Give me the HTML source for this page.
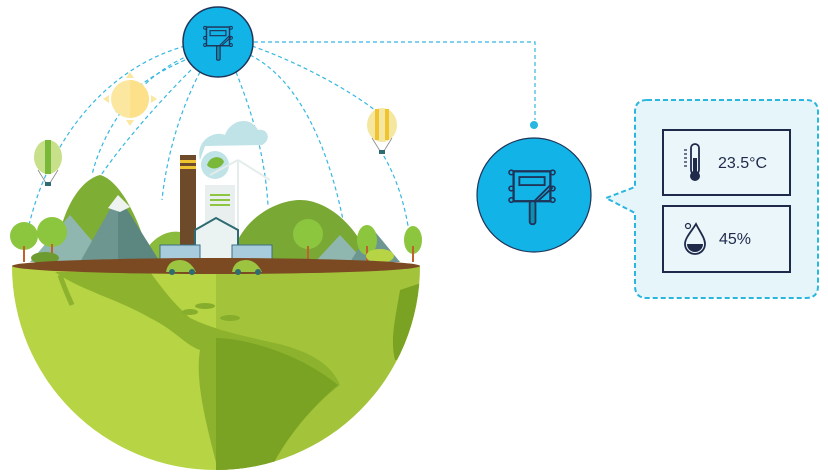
<!DOCTYPE html>
<html><head><meta charset="utf-8"><style>
html,body{margin:0;padding:0;background:#fff;width:828px;height:474px;overflow:hidden}
svg{display:block}
text{font-family:"Liberation Sans",sans-serif}
</style></head><body>
<svg width="828" height="474" viewBox="0 0 828 474" xmlns="http://www.w3.org/2000/svg">
<defs>
<clipPath id="hemi"><path d="M12,266 A204,204 0 0 0 420,266 Z"/></clipPath>
<g id="sensor">
 <rect x="-16" y="-18" width="32" height="26" fill="none" stroke="#1f3458" stroke-width="2"/>
 <rect x="-11" y="-13" width="22" height="7" fill="none" stroke="#1f3458" stroke-width="1.6"/>
 <circle cx="-18" cy="-17" r="2" fill="none" stroke="#1f3458" stroke-width="1.4"/>
 <circle cx="18" cy="-17" r="2" fill="none" stroke="#1f3458" stroke-width="1.4"/>
 <circle cx="-18" cy="-3" r="2" fill="none" stroke="#1f3458" stroke-width="1.4"/>
 <circle cx="18" cy="-3" r="2" fill="none" stroke="#1f3458" stroke-width="1.4"/>
 <circle cx="-18" cy="7" r="2" fill="none" stroke="#1f3458" stroke-width="1.4"/>
 <circle cx="18" cy="7" r="2" fill="none" stroke="#1f3458" stroke-width="1.4"/>
 <path d="M2,8 L16,-6 M5,8 L18,-4" stroke="#1f3458" stroke-width="1.6" fill="none"/>
 <rect x="-2" y="8" width="5" height="20" rx="2" fill="#0f8fb0" stroke="#1f3458" stroke-width="1.6"/>
</g>
</defs>

<g fill="none" stroke="#35b8e0" stroke-width="1.2" stroke-dasharray="4,3">
 <path d="M254,42 L535,42 L535,120"/>
 <path d="M185,46 C100,70 40,150 24,250"/>
 <path d="M190,55 C130,80 100,140 92,175"/>
 <path d="M196,65 C150,110 110,160 98,180"/>
 <path d="M185,60 C140,80 120,100 115,115"/>
 <path d="M200,72 C175,120 165,170 162,200"/>
 <path d="M236,72 C255,120 265,160 268,205"/>
 <path d="M250,55 C300,80 330,150 345,230"/>
 <path d="M252,46 C320,70 380,110 385,120"/>
 <path d="M380,150 C400,180 408,220 410,240"/>
</g>
<circle cx="534" cy="125" r="4" fill="#29b6e0"/>

<circle cx="218" cy="42" r="35" fill="#12b3e6" stroke="#1f3458" stroke-width="1.5"/>
<g transform="translate(218,40) scale(0.72)"><use href="#sensor"/></g>

<circle cx="534" cy="195" r="57" fill="#12b3e6" stroke="#1f3458" stroke-width="1.2"/>
<g transform="translate(532,192) scale(1.15)"><use href="#sensor"/></g>

<path d="M647,100 H806 Q818,100 818,112 V286 Q818,298 806,298 H647 Q635,298 635,286 V213 L606,198 L635,187 V112 Q635,100 647,100 Z" fill="#e6f5f9" stroke="#29b6e0" stroke-width="2" stroke-dasharray="5,3"/>
<rect x="663" y="130" width="127" height="65" fill="#eaf6f9" stroke="#1f2a4a" stroke-width="2"/>
<rect x="663" y="206" width="127" height="66" fill="#eaf6f9" stroke="#1f2a4a" stroke-width="2"/>
<rect x="691" y="144" width="8" height="30" rx="4" fill="none" stroke="#1f2a4a" stroke-width="1.8"/>
<circle cx="695" cy="176" r="5" fill="#1f2a4a"/>
<rect x="693" y="158" width="4" height="16" fill="#1f2a4a"/>
<path d="M684,150h3M684,154h3M684,158h3M684,162h3M684,166h3" stroke="#1f2a4a" stroke-width="1.2"/>
<text x="718" y="168" font-size="16" fill="#1f2a4a">23.5°C</text>
<path d="M696,224 C691,232 685,238 685,244 A9,9 0 0 0 705,244 C705,238 700,232 696,224 Z" fill="none" stroke="#1f2a4a" stroke-width="1.8"/>
<path d="M687,244 A8,8 0 0 0 703,244 Z" fill="#1f2a4a"/>
<circle cx="688" cy="226" r="2.5" fill="none" stroke="#1f2a4a" stroke-width="1.2"/>
<text x="719" y="244" font-size="16" fill="#1f2a4a">45%</text>

<g clip-path="url(#hemi)">
 <rect x="0" y="260" width="216" height="220" fill="#b6d444"/>
 <rect x="216" y="260" width="220" height="220" fill="#a3c43a"/>
 <path d="M55,272 C80,290 120,300 150,318 C175,330 185,345 200,350 C195,380 205,420 218,470 L270,470 C290,430 320,400 340,385 C330,360 300,348 270,342 C240,335 215,330 190,318 C170,300 160,285 150,272 Z" fill="#8db32e"/>
 <path d="M216,338 C240,338 295,350 338,385 C320,400 290,430 270,470 L216,470 Z" fill="#7aa324"/>
 <path d="M400,290 C395,320 390,340 395,360 L430,360 L430,280 Z" fill="#7aa324"/>
 <path d="M60,275 C65,290 70,300 72,305" stroke="#8db32e" stroke-width="5" fill="none"/>
 <ellipse cx="205" cy="306" rx="10" ry="3" fill="#86ae2c"/>
 <ellipse cx="230" cy="318" rx="10" ry="3" fill="#86ae2c"/>
 <ellipse cx="190" cy="312" rx="8" ry="3" fill="#86ae2c"/>
</g>

<path d="M55,260 C60,210 80,180 100,175 C120,180 140,220 150,260 Z" fill="#7fae34"/>
<path d="M230,262 C240,215 280,200 300,200 C330,200 360,230 370,262 Z" fill="#79a834"/>
<path d="M140,262 C150,235 170,230 180,232 L190,262 Z" fill="#8bbb3c"/>
<path d="M30,262 L70,215 L110,262 Z" fill="#8fb7b0"/>
<path d="M80,262 L118,195 L160,262 Z" fill="#6d9690"/>
<path d="M118,195 L160,262 L118,262 Z" fill="#5c8680"/>
<path d="M108,208 L118,195 L130,207 L120,212 Z" fill="#eef3f2"/>
<path d="M315,262 L340,235 L365,262 Z" fill="#8fb7b0"/>
<path d="M350,262 L372,228 L400,262 Z" fill="#6d9690"/>
<g fill="#8cc63f">
 <circle cx="24" cy="236" r="14"/><circle cx="52" cy="232" r="15"/>
 <circle cx="308" cy="234" r="15"/><ellipse cx="367" cy="240" rx="10" ry="15"/>
 <ellipse cx="413" cy="240" rx="9" ry="14"/><circle cx="216" cy="242" r="11"/>
</g>
<g stroke="#c0622b" stroke-width="2"><path d="M24,246V262M52,244V262M308,246V262M367,246V262M413,246V262M216,250V262"/></g>
<ellipse cx="45" cy="258" rx="14" ry="6" fill="#6d9b30"/>
<ellipse cx="380" cy="256" rx="14" ry="7" fill="#b6d444"/>
<path d="M200,160 C195,140 215,130 225,135 C230,120 250,115 258,130 C268,128 272,140 262,145 L205,146 Z" fill="#bfe3e6"/>
<rect x="180" y="155" width="16" height="100" fill="#6d4a2a"/>
<rect x="180" y="160" width="16" height="3" fill="#f0c430"/><rect x="180" y="166" width="16" height="3" fill="#f0c430"/>
<circle cx="215" cy="165" r="14" fill="#bfe3e6"/>
<path d="M207,165 C210,155 222,155 224,162 C220,170 210,170 207,165Z" fill="#7ab83a"/>
<rect x="205" y="185" width="30" height="55" fill="#e9efef"/>
<path d="M210,195h20M210,200h20M210,205h20" stroke="#8cc63f" stroke-width="2"/>
<path d="M238,160V255M238,160L270,180M238,160L210,175" stroke="#e5ecec" stroke-width="2"/>
<path d="M195,230 L216,218 L238,230 L238,262 L195,262 Z" fill="#eaf2f2" stroke="#2e6c72" stroke-width="2"/>
<rect x="160" y="245" width="40" height="18" fill="#a8ccdc" stroke="#3c6f86"/>
<rect x="232" y="245" width="40" height="18" fill="#a8ccdc" stroke="#3c6f86"/>
<ellipse cx="216" cy="266" rx="204" ry="8" fill="#7b4a22"/>
<path d="M166,272 Q168,260 180,260 Q190,260 196,272 Z" fill="#9cc441"/>
<path d="M232,272 Q234,260 246,260 Q256,260 262,272 Z" fill="#9cc441"/>
<circle cx="172" cy="272" r="3" fill="#2e6c72"/><circle cx="192" cy="272" r="3" fill="#2e6c72"/>
<circle cx="238" cy="272" r="3" fill="#2e6c72"/><circle cx="258" cy="272" r="3" fill="#2e6c72"/>

<g fill="#fbe7a0"><circle cx="130" cy="99" r="19"/>
<path d="M130,72l4,6h-8zM130,126l4,-6h-8zM103,99l6,-4v8zM157,99l-6,-4v8z"/></g>
<path d="M130,80 A19,19 0 0 1 130,118 Z" fill="#fde08a"/>
<ellipse cx="48" cy="157" rx="14" ry="17" fill="#c8e08a"/>
<path d="M48,140 V174" stroke="#7ab83a" stroke-width="6"/>
<path d="M38,170 L46,183 M58,170 L50,183" stroke="#888" stroke-width="0.8"/>
<rect x="45" y="182" width="6" height="4" fill="#2e6c72"/>
<ellipse cx="382" cy="125" rx="15" ry="17" fill="#f5e7a0"/>
<path d="M377,109V140M387,109V140" stroke="#f0c430" stroke-width="4"/>
<path d="M372,138 L380,151 M392,138 L384,151" stroke="#888" stroke-width="0.8"/>
<rect x="379" y="150" width="6" height="4" fill="#2e6c72"/>
</svg>
</body></html>
